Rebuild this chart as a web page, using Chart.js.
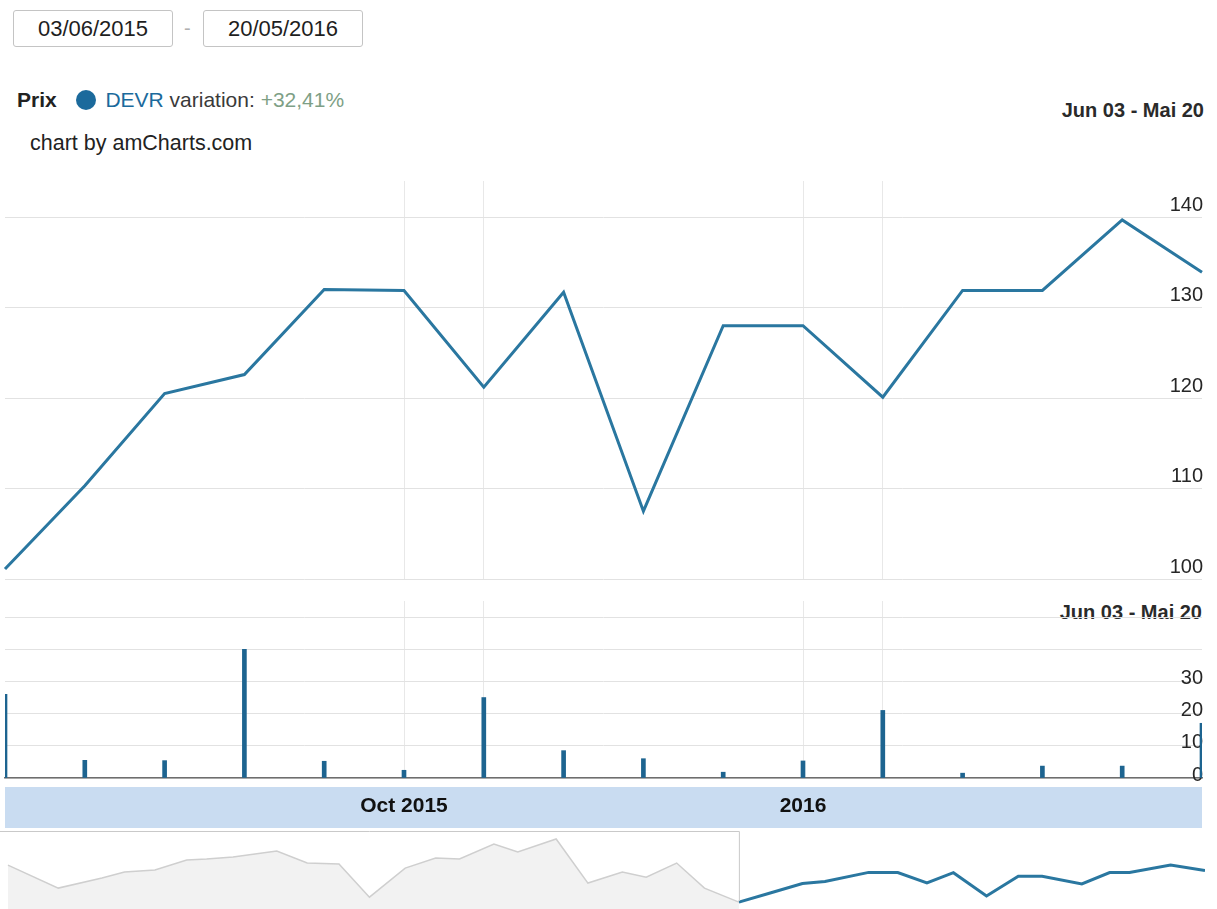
<!DOCTYPE html>
<html>
<head>
<meta charset="utf-8">
<title>DEVR - Prix</title>
<script src="https://cdn.jsdelivr.net/npm/chart.js@4.4.1/dist/chart.umd.min.js"></script>
<style>
  body { margin: 0; background: #fff; font-family: "Liberation Sans", Arial, sans-serif; color: #222; }
  #page { position: relative; width: 1217px; height: 909px; overflow: hidden; }
  .datebox {
    position: absolute; top: 10px; width: 158px; height: 35px;
    border: 1px solid #c4c4c4; border-radius: 3px;
    font-size: 22px; line-height: 36px; text-align: center; color: #1e1e1e;
  }
  .abs { position: absolute; white-space: nowrap; }
  .period { font-size: 20px; font-weight: bold; color: #2a2a2a; }
  canvas { position: absolute; left: 0; }
  #band { position: absolute; left: 5px; top: 787px; width: 1197px; height: 41px; background: #c9dcf1; }
</style>
</head>
<body>
<div id="page">
  <div class="datebox" style="left:13px">03/06/2015</div>
  <div class="abs" style="left:184px; top:17px; font-size:20px; color:#b0b0b0">-</div>
  <div class="datebox" style="left:203px">20/05/2016</div>

  <div class="abs" style="left:17px; top:88px; font-size:21px">
    <b>Prix</b>
    <span style="display:inline-block; width:20px; height:20px; border-radius:50%; background:#1b6a9c; vertical-align:-3px; margin:0 4px 0 13px"></span>
    <span style="color:#1b6a9c">DEVR</span>
    <span style="color:#3a3a3a">variation:</span>
    <span style="color:#7e9f86">+32,41%</span>
  </div>
  <div class="abs" style="left:30px; top:131px; font-size:21.5px; color:#222">chart by amCharts.com</div>

  <div class="abs period" style="right:13px; top:99px">Jun 03 - Mai 20</div>
  <div class="abs period" style="right:15px; top:601px">Jun 03 - Mai 20</div>

  <div id="band"></div>
  <canvas id="priceChart" style="top:168px" width="1217" height="424"></canvas>
  <canvas id="volumeChart" style="top:588px" width="1217" height="252"></canvas>
  <canvas id="navChart" style="top:830px" width="1217" height="79"></canvas>
</div>

<script>
// ── Selected period (Jun 03 2015 - May 20 2016) ─────────────
const dates = [
  '2015-06-03', '2015-06-26', '2015-07-21', '2015-08-07',
  '2015-09-09', '2015-10-01', '2015-10-23', '2015-11-12',
  '2015-12-07', '2015-12-31', '2016-01-18', '2016-02-17',
  '2016-03-09', '2016-03-24', '2016-04-24', '2016-05-20',
];
const prices  = [101.1, 110.3, 120.5, 122.6, 132.0, 131.9, 121.2, 131.7,
                 107.5, 128.0, 128.0, 120.1, 131.9, 131.9, 139.7, 133.9];
const volumes = [26, 5.5, 5.4, 40, 5.2, 2.4, 25, 8.5,
                 6, 1.8, 5.3, 21, 1.5, 3.7, 3.7, 17];

// category axis labels (only the period starts are shown)
const tickLabels = ['', '', '', '', '', 'Oct 2015', '', '', '', '', '2016', '', '', '', '', ''];
// ticks that get a vertical grid line
const gridTicks = [5, 6, 10, 11];

// ── Earlier history, only visible in the scrollbar ──────────
const historyDates = [
  '2013-11-28', '2014-01-05', '2014-02-07', '2014-02-24', '2014-03-19',
  '2014-04-12', '2014-04-27', '2014-05-17', '2014-06-19', '2014-07-12',
  '2014-08-05', '2014-08-28', '2014-09-24', '2014-10-17', '2014-11-04',
  '2014-11-30', '2014-12-18', '2015-01-16', '2015-02-09', '2015-03-07',
  '2015-03-25', '2015-04-17', '2015-05-08',
];
const historyPrices = [139.6, 115.7, 126.1, 132.3, 134.4, 144.9, 145.9, 148.0,
                       154.2, 141.7, 140.7, 106.3, 136.5, 146.9, 145.9, 161.5,
                       153.2, 166.7, 120.9, 132.3, 127.1, 141.7, 115.7];

const COLORS = {
  line:   '#2a77a0',
  bars:   '#1d6490',
  grid:   '#e2e2e2',
  vgrid:  '#e8e8e8',
  ticks:  '#262626',
  axis:   '#6e6e6e',
  navOld: '#cfcfcf',
  navFill:'#f2f2f2',
  frame:  '#c9c9c9',
};
const FONT = '"Liberation Sans", Arial, sans-serif';

Chart.defaults.font.family = FONT;
Chart.defaults.animation = false;
Chart.defaults.plugins.legend.display = false;
Chart.defaults.plugins.tooltip.enabled = false;

const hPad = { left: 5, right: 13 };
const vGridColor = (ctx) => gridTicks.includes(ctx.index) ? COLORS.vgrid : 'rgba(0,0,0,0)';

// ── Price panel ─────────────────────────────────────────────
new Chart(document.getElementById('priceChart'), {
  type: 'line',
  data: {
    labels: dates,
    datasets: [{
      data: prices,
      borderColor: COLORS.line,
      borderWidth: 3,
      pointRadius: 0,
      tension: 0,
    }],
  },
  options: {
    responsive: false,
    layout: { padding: { top: 0, bottom: 0, ...hPad } },
    scales: {
      x: {
        offset: false,
        ticks: { display: false, autoSkip: false },
        grid: { color: vGridColor, drawTicks: false },
        border: { display: false },
      },
      y: {
        position: 'right',
        min: 100, max: 144,
        ticks: {
          stepSize: 10, includeBounds: false, mirror: true, padding: 1,
          labelOffset: -12, color: COLORS.ticks, font: { size: 20 },
        },
        grid: { color: COLORS.grid, drawTicks: false },
        border: { display: false },
      },
    },
  },
});

// ── Volume panel ────────────────────────────────────────────
new Chart(document.getElementById('volumeChart'), {
  type: 'bar',
  data: {
    labels: dates,
    datasets: [{
      data: volumes,
      backgroundColor: COLORS.bars,
      barThickness: 4,
    }],
  },
  options: {
    responsive: false,
    layout: { padding: { top: 10, bottom: 20, ...hPad } },
    scales: {
      x: {
        offset: false,
        ticks: {
          autoSkip: false, maxRotation: 0, padding: 16,
          color: '#111', font: { size: 21, weight: 'bold' },
          callback: (v, i) => tickLabels[i],
        },
        grid: { color: vGridColor, drawTicks: false, offset: false },
        border: { display: true, color: COLORS.axis, width: 1.5 },
        // keep the labels low in the band without shrinking the plot
        afterFit: (scale) => {
          scale.paddingLeft = 0;
          scale.paddingRight = 0;
          scale.height = 42;
        },
      },
      y: {
        position: 'right',
        min: 0, max: 55,
        ticks: {
          stepSize: 10, includeBounds: false, mirror: true, padding: 1,
          labelOffset: -3, color: COLORS.ticks, font: { size: 20 },
          callback: (v) => (v <= 30 ? v : ''),
        },
        grid: { color: COLORS.grid, drawTicks: false },
        border: { display: false },
      },
    },
  },
});

// ── Scrollbar / navigator ───────────────────────────────────
const toPoints = (ds, vs) => ds.map((d, i) => ({ x: Date.parse(d), y: vs[i] }));

// thin frame marking where the selected period begins
const selectionFrame = {
  id: 'selectionFrame',
  afterDatasetsDraw(chart) {
    const { ctx, chartArea, scales } = chart;
    const xs = scales.x.getPixelForValue(Date.parse(dates[0]));
    ctx.save();
    ctx.strokeStyle = COLORS.frame;
    ctx.lineWidth = 1;
    ctx.beginPath();
    ctx.moveTo(chartArea.left, chartArea.top + 1.5);
    ctx.lineTo(xs + 0.5, chartArea.top + 1.5);
    ctx.lineTo(xs + 0.5, chartArea.bottom - 8);
    ctx.stroke();
    ctx.restore();
  },
};

new Chart(document.getElementById('navChart'), {
  type: 'line',
  data: {
    datasets: [
      {
        data: toPoints(historyDates.concat(dates[0]), historyPrices.concat(prices[0])),
        borderColor: COLORS.navOld,
        backgroundColor: COLORS.navFill,
        fill: 'start',
        borderWidth: 1.5,
        pointRadius: 0,
      },
      {
        data: toPoints(dates, prices),
        borderColor: COLORS.line,
        borderWidth: 3,
        pointRadius: 0,
      },
    ],
  },
  options: {
    responsive: false,
    layout: { padding: { top: 0, bottom: 0, left: 0, right: 12 } },
    scales: {
      x: { type: 'linear', display: false, min: Date.parse('2013-11-22'), max: Date.parse('2016-05-20') },
      y: { display: false, min: 94, max: 176 },
    },
  },
  plugins: [selectionFrame],
});
</script>
</body>
</html>
